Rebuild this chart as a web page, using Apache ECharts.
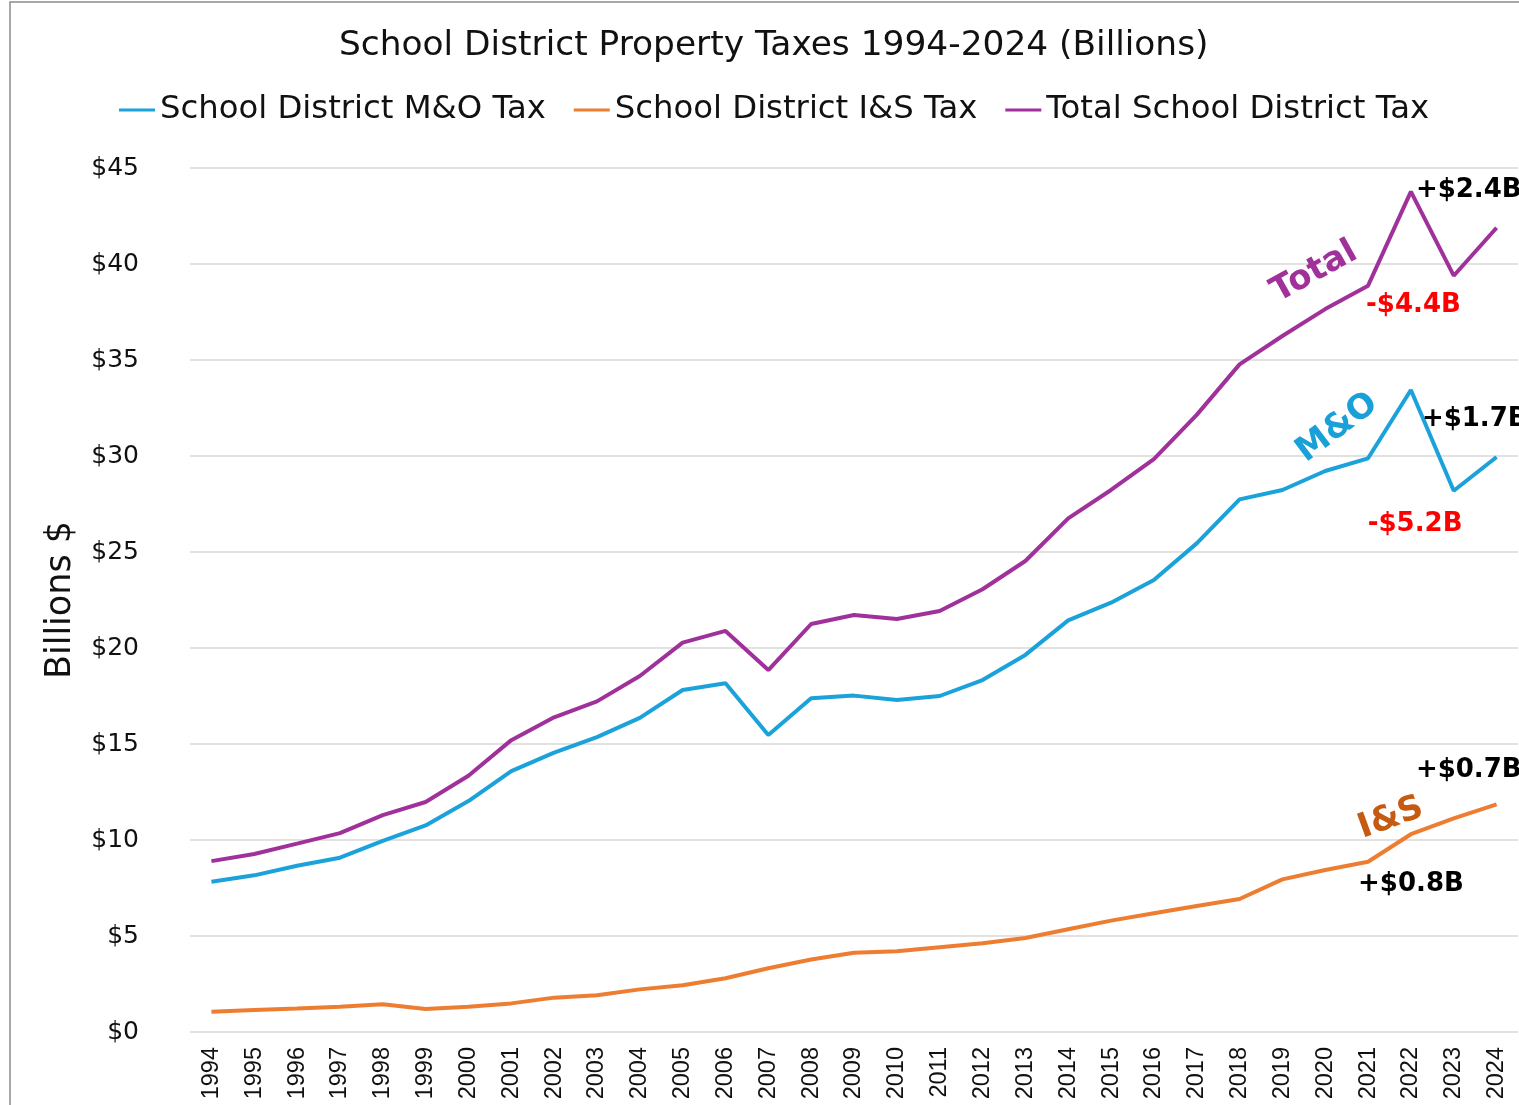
<!DOCTYPE html>
<html>
<head>
<meta charset="utf-8">
<script src="https://cdn.jsdelivr.net/npm/echarts@6/dist/echarts.min.js"></script>
<style>
html,body{margin:0;padding:0;background:#fff;}
#chart{width:1519px;height:1105px;}
</style>
</head>
<body>
<div id="chart"></div>
<script>
// ---- data ----
const years = ['1994','1995','1996','1997','1998','1999','2000','2001','2002','2003','2004','2005','2006','2007','2008','2009','2010','2011','2012','2013','2014','2015','2016','2017','2018','2019','2020','2021','2022','2023','2024'];
const moTax = [7.83, 8.16, 8.66, 9.08, 9.95, 10.76, 12.03, 13.59, 14.55, 15.36, 16.36, 17.81, 18.16, 15.47, 17.38, 17.52, 17.29, 17.5, 18.33, 19.64, 21.44, 22.36, 23.54, 25.45, 27.74, 28.23, 29.22, 29.88, 33.44, 28.19, 29.95];
const isTax = [1.06, 1.15, 1.23, 1.32, 1.44, 1.2, 1.32, 1.49, 1.79, 1.91, 2.22, 2.43, 2.8, 3.32, 3.78, 4.13, 4.2, 4.41, 4.62, 4.9, 5.35, 5.8, 6.18, 6.56, 6.93, 7.95, 8.44, 8.87, 10.3, 11.13, 11.86];
const totalTax = [8.9, 9.27, 9.81, 10.36, 11.3, 11.98, 13.35, 15.2, 16.39, 17.22, 18.54, 20.28, 20.89, 18.85, 21.25, 21.72, 21.51, 21.93, 23.06, 24.53, 26.75, 28.23, 29.84, 32.14, 34.77, 36.25, 37.65, 38.87, 43.77, 39.39, 41.89];
const yTicks = [0, 5, 10, 15, 20, 25, 30, 35, 40, 45];
const seriesNames = ['School District M&O Tax', 'School District I&S Tax', 'Total School District Tax'];
const titleText = 'School District Property Taxes 1994-2024 (Billions)';
const yName = 'Billions $';
// annotation texts
const noteTotal = {tag: 'Total', up: '+$2.4B', down: '-$4.4B'};
const noteMO = {tag: 'M&O', up: '+$1.7B', down: '-$5.2B'};
const noteIS = {tag: 'I&S', up: '+$0.7B', up2: '+$0.8B'};

// ---- styles ----
const C_MO = '#1CA2DA', C_IS = '#ED7D31', C_TOT = '#A0319B';
const FONT = 'DejaVu Sans';

function idx(y){ return years.indexOf(y); }
// offset given in screen space; converted so that it is not rotated with the label
function mp(year, arr, text, opt, screenOffset){
  const rot = (opt.rotate || 0) * Math.PI / 180;
  const c = Math.cos(rot), s = Math.sin(rot);
  const dx = screenOffset[0], dy = screenOffset[1];
  const off = [dx * c - dy * s, dx * s + dy * c];
  return {
    coord: [year, arr[idx(year)]],
    symbol: 'rect', symbolSize: 1,
    itemStyle: {color: 'rgba(0,0,0,0)'},
    label: Object.assign({
      show: true, formatter: text, position: 'inside',
      verticalAlign: 'middle', fontFamily: FONT, fontWeight: 'bold', fontSize: 26,
      offset: off
    }, opt)
  };
}

const chart = echarts.init(document.getElementById('chart'), null, {renderer: 'canvas'});
chart.setOption({
  animation: false,
  backgroundColor: '#fff',
  graphic: [{
    type: 'rect', shape: {x: 10, y: 2, width: 1700, height: 1300},
    style: {fill: 'none', stroke: '#8c8c8c', lineWidth: 1.5}, silent: true, z: 100
  }],
  title: {
    text: titleText, left: 334, top: 24,
    textStyle: {fontFamily: FONT, fontWeight: 'normal', fontSize: 34.4, color: '#111'}
  },
  legend: {
    data: seriesNames, left: 114, top: 89,
    icon: 'rect', itemWidth: 36, itemHeight: 3, itemGap: 28,
    textStyle: {fontFamily: FONT, fontSize: 32.3, color: '#111'}
  },
  grid: {left: 190, right: 1, top: 168, bottom: 73, containLabel: false},
  xAxis: {
    type: 'category', data: years, boundaryGap: true,
    axisLine: {show: false}, axisTick: {show: false},
    axisLabel: {rotate: 90, margin: 15, fontFamily: 'Liberation Sans', fontSize: 23.5, color: '#111', interval: 0}
  },
  yAxis: {
    type: 'value', min: yTicks[0], max: yTicks[yTicks.length-1], interval: 5,
    name: yName, nameLocation: 'middle', nameRotate: 90, nameGap: 112,
    nameTextStyle: {fontFamily: FONT, fontSize: 35, color: '#111'},
    axisLine: {show: false}, axisTick: {show: false},
    axisLabel: {margin: 51, fontFamily: FONT, fontSize: 25, color: '#111', formatter: v => '$' + v},
    splitLine: {lineStyle: {color: '#d9d9d9', width: 1.5}}
  },
  series: [
    {
      name: seriesNames[0], type: 'line', data: moTax, showSymbol: false, symbol: 'none',
      lineStyle: {color: C_MO, width: 4}, itemStyle: {color: C_MO},
      markPoint: {silent: true, data: [
        mp('2022', moTax, noteMO.up, {align: 'left', color: '#000'}, [11, 29]),
        mp('2023', moTax, noteMO.down, {align: 'left', color: '#ff0000'}, [-86, 33]),
        mp('2020', moTax, noteMO.tag, {align: 'center', rotate: 37, fontSize: 34, color: '#1AA0D8'}, [12, -43])
      ]}
    },
    {
      name: seriesNames[1], type: 'line', data: isTax, showSymbol: false, symbol: 'none',
      lineStyle: {color: C_IS, width: 4}, itemStyle: {color: C_IS},
      markPoint: {silent: true, data: [
        mp('2022', isTax, noteIS.up, {align: 'left', color: '#000'}, [5, -64]),
        mp('2021', isTax, noteIS.up2, {align: 'left', color: '#000'}, [-10, 23]),
        mp('2022', isTax, noteIS.tag, {align: 'center', rotate: 20, fontSize: 34, color: '#C55A11'}, [-20, -16])
      ]}
    },
    {
      name: seriesNames[2], type: 'line', data: totalTax, showSymbol: false, symbol: 'none',
      lineStyle: {color: C_TOT, width: 4}, itemStyle: {color: C_TOT},
      markPoint: {silent: true, data: [
        mp('2022', totalTax, noteTotal.up, {align: 'left', color: '#000'}, [5, -1]),
        mp('2021', totalTax, noteTotal.down, {align: 'left', color: '#ff0000'}, [-2, 20]),
        mp('2020', totalTax, noteTotal.tag, {align: 'center', rotate: 29, fontSize: 34, color: C_TOT}, [-11, -37])
      ]}
    }
  ]
});
</script>
</body>
</html>
